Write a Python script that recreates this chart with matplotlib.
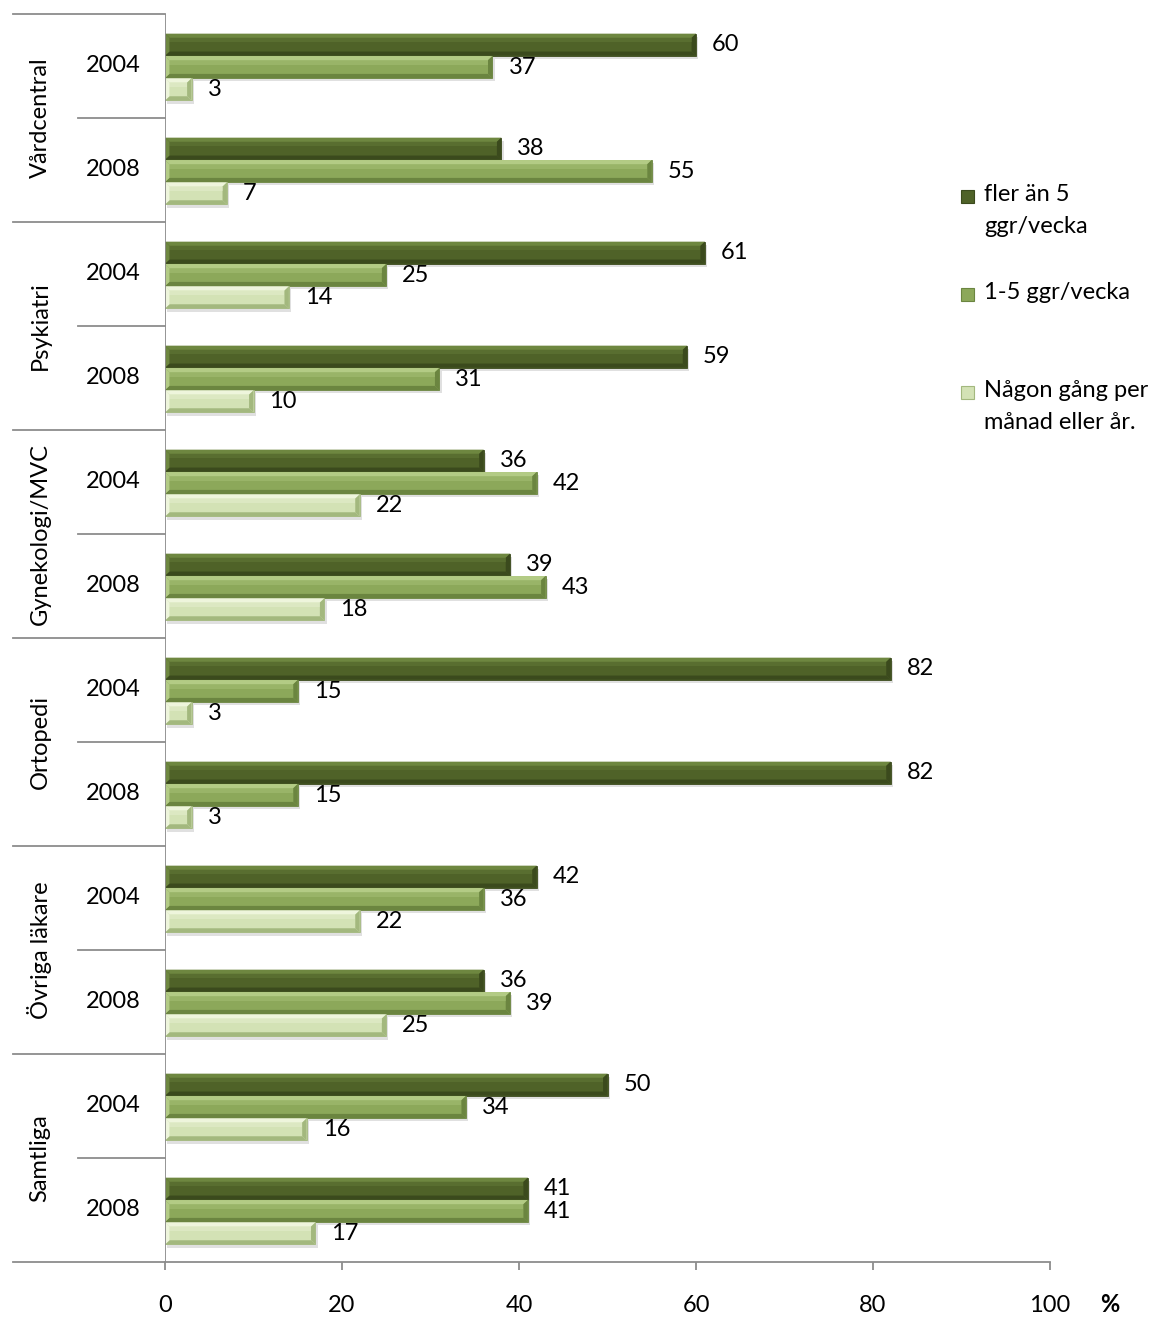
import matplotlib.pyplot as plt
from matplotlib.patches import Polygon, Rectangle

plt.rcParams["font.family"] = ["Lato", "DejaVu Sans"]

categories = ["Vårdcentral", "Psykiatri", "Gynekologi/MVC", "Ortopedi", "Övriga läkare", "Samtliga"]
years = ["2004", "2008"]
series_names = ["fler än 5\nggr/vecka", "1-5 ggr/vecka", "Någon gång per\nmånad eller år."]
fler_an_5 = [60, 38, 61, 59, 36, 39, 82, 82, 42, 36, 50, 41]
en_till_5 = [37, 55, 25, 31, 42, 43, 15, 15, 36, 39, 34, 41]
nagon_gang = [3, 7, 14, 10, 22, 18, 3, 3, 22, 25, 16, 17]
xticks = [0, 20, 40, 60, 80, 100]

# base / highlight / shade for each series
palette = [
    ("#4f6228", "#6e8740", "#3b4a1d"),
    ("#8ca85a", "#b3cb85", "#6b8540"),
    ("#d3e2b5", "#eef5dc", "#a3b87e"),
]
line_col = "#8c8c8c"
fs = 17

fig = plt.figure(figsize=(11.57, 13.17), dpi=100)
ax = fig.add_axes([165 / 1157, 1 - 1262 / 1317, 885 / 1157, 1248 / 1317])
ax.set_xlim(0, 100)
ax.set_ylim(12, 0)

bar_h = 0.212
offsets = [-0.205, 0.01, 0.225]
bev_y = 0.04
bev_x = 0.5


def bevel_bar(y, w, cols):
    base, hi, lo = cols
    top, bot = y - bar_h / 2, y + bar_h / 2
    bx = min(bev_x, w / 2)
    # soft drop shadow
    ax.add_patch(Rectangle((0.25, top + 0.03), w, bar_h, color="#000000", alpha=0.12, lw=0, zorder=1))
    ax.add_patch(Rectangle((0, top), w, bar_h, facecolor=base, edgecolor=lo, lw=0.6, zorder=2))
    # upper bevel
    ax.add_patch(Polygon([(0, top), (w, top), (w - bx, top + bev_y), (bx, top + bev_y)],
                         closed=True, facecolor=hi, lw=0, zorder=3))
    # lower bevel
    ax.add_patch(Polygon([(0, bot), (w, bot), (w - bx, bot - bev_y), (bx, bot - bev_y)],
                         closed=True, facecolor=lo, lw=0, zorder=3))
    # right end
    ax.add_patch(Polygon([(w, top), (w, bot), (w - bx, bot - bev_y), (w - bx, top + bev_y)],
                         closed=True, facecolor=lo, lw=0, zorder=3))
    # left end
    ax.add_patch(Polygon([(0, top), (0, bot), (bx, bot - bev_y), (bx, top + bev_y)],
                         closed=True, facecolor=hi, lw=0, zorder=3))
    # light stripe in the upper half
    ax.add_patch(Rectangle((bx, top + bev_y), w - 2 * bx, bar_h * 0.2, facecolor=hi, alpha=0.35, lw=0, zorder=3))


all_series = [fler_an_5, en_till_5, nagon_gang]
for k, vals in enumerate(all_series):
    for i, v in enumerate(vals):
        y = i + 0.5 + offsets[k]
        bevel_bar(y, v, palette[k])
        ax.annotate(str(v), (v, y), xytext=(16, 0), textcoords="offset pixels",
                    va="center", ha="left", fontsize=fs, color="black")

for s in ["top", "right", "left"]:
    ax.spines[s].set_visible(False)
ax.spines["bottom"].set_color(line_col)
ax.spines["bottom"].set_linewidth(1.3)
ax.axvline(0, color=line_col, lw=1.3, zorder=4)
ax.set_yticks([])
ax.set_xticks(xticks)
ax.tick_params(axis="x", length=6, width=1.3, color=line_col, pad=18, labelsize=fs)

# two-level category axis
trans = ax.get_yaxis_transform()
x_outer = (13 - 165) / 885
x_inner = (78 - 165) / 885
for g in range(len(categories) + 1):
    ax.plot([x_outer, 0], [2 * g, 2 * g], transform=trans, color=line_col, lw=1.3, clip_on=False)
for g, cat in enumerate(categories):
    ax.plot([x_inner, 0], [2 * g + 1, 2 * g + 1], transform=trans, color=line_col, lw=1.3, clip_on=False)
    ax.text((40 - 165) / 885, 2 * g + 1, cat, transform=trans, rotation=90,
            ha="center", va="center", fontsize=fs)
    for j, yr in enumerate(years):
        ax.text((113 - 165) / 885, 2 * g + j + 0.5, yr, transform=trans,
                ha="center", va="center", fontsize=fs)

fig.text(1110 / 1157, 1 - 1304 / 1317, "%", ha="center", va="center", fontsize=fs, fontweight="bold")

# legend
leg_tops = [184, 282, 380]
for k, name in enumerate(series_names):
    yt = 1 - leg_tops[k] / 1317
    base, hi, lo = palette[k]
    fig.patches.append(Rectangle((961 / 1157, 1 - (leg_tops[k] + 19) / 1317), 13 / 1157, 13 / 1317,
                                 transform=fig.transFigure, facecolor=base, edgecolor=lo, lw=0.8))
    fig.text(984 / 1157, yt, name, ha="left", va="top", fontsize=fs, linespacing=1.65)

fig.savefig("out.png", dpi=100)
